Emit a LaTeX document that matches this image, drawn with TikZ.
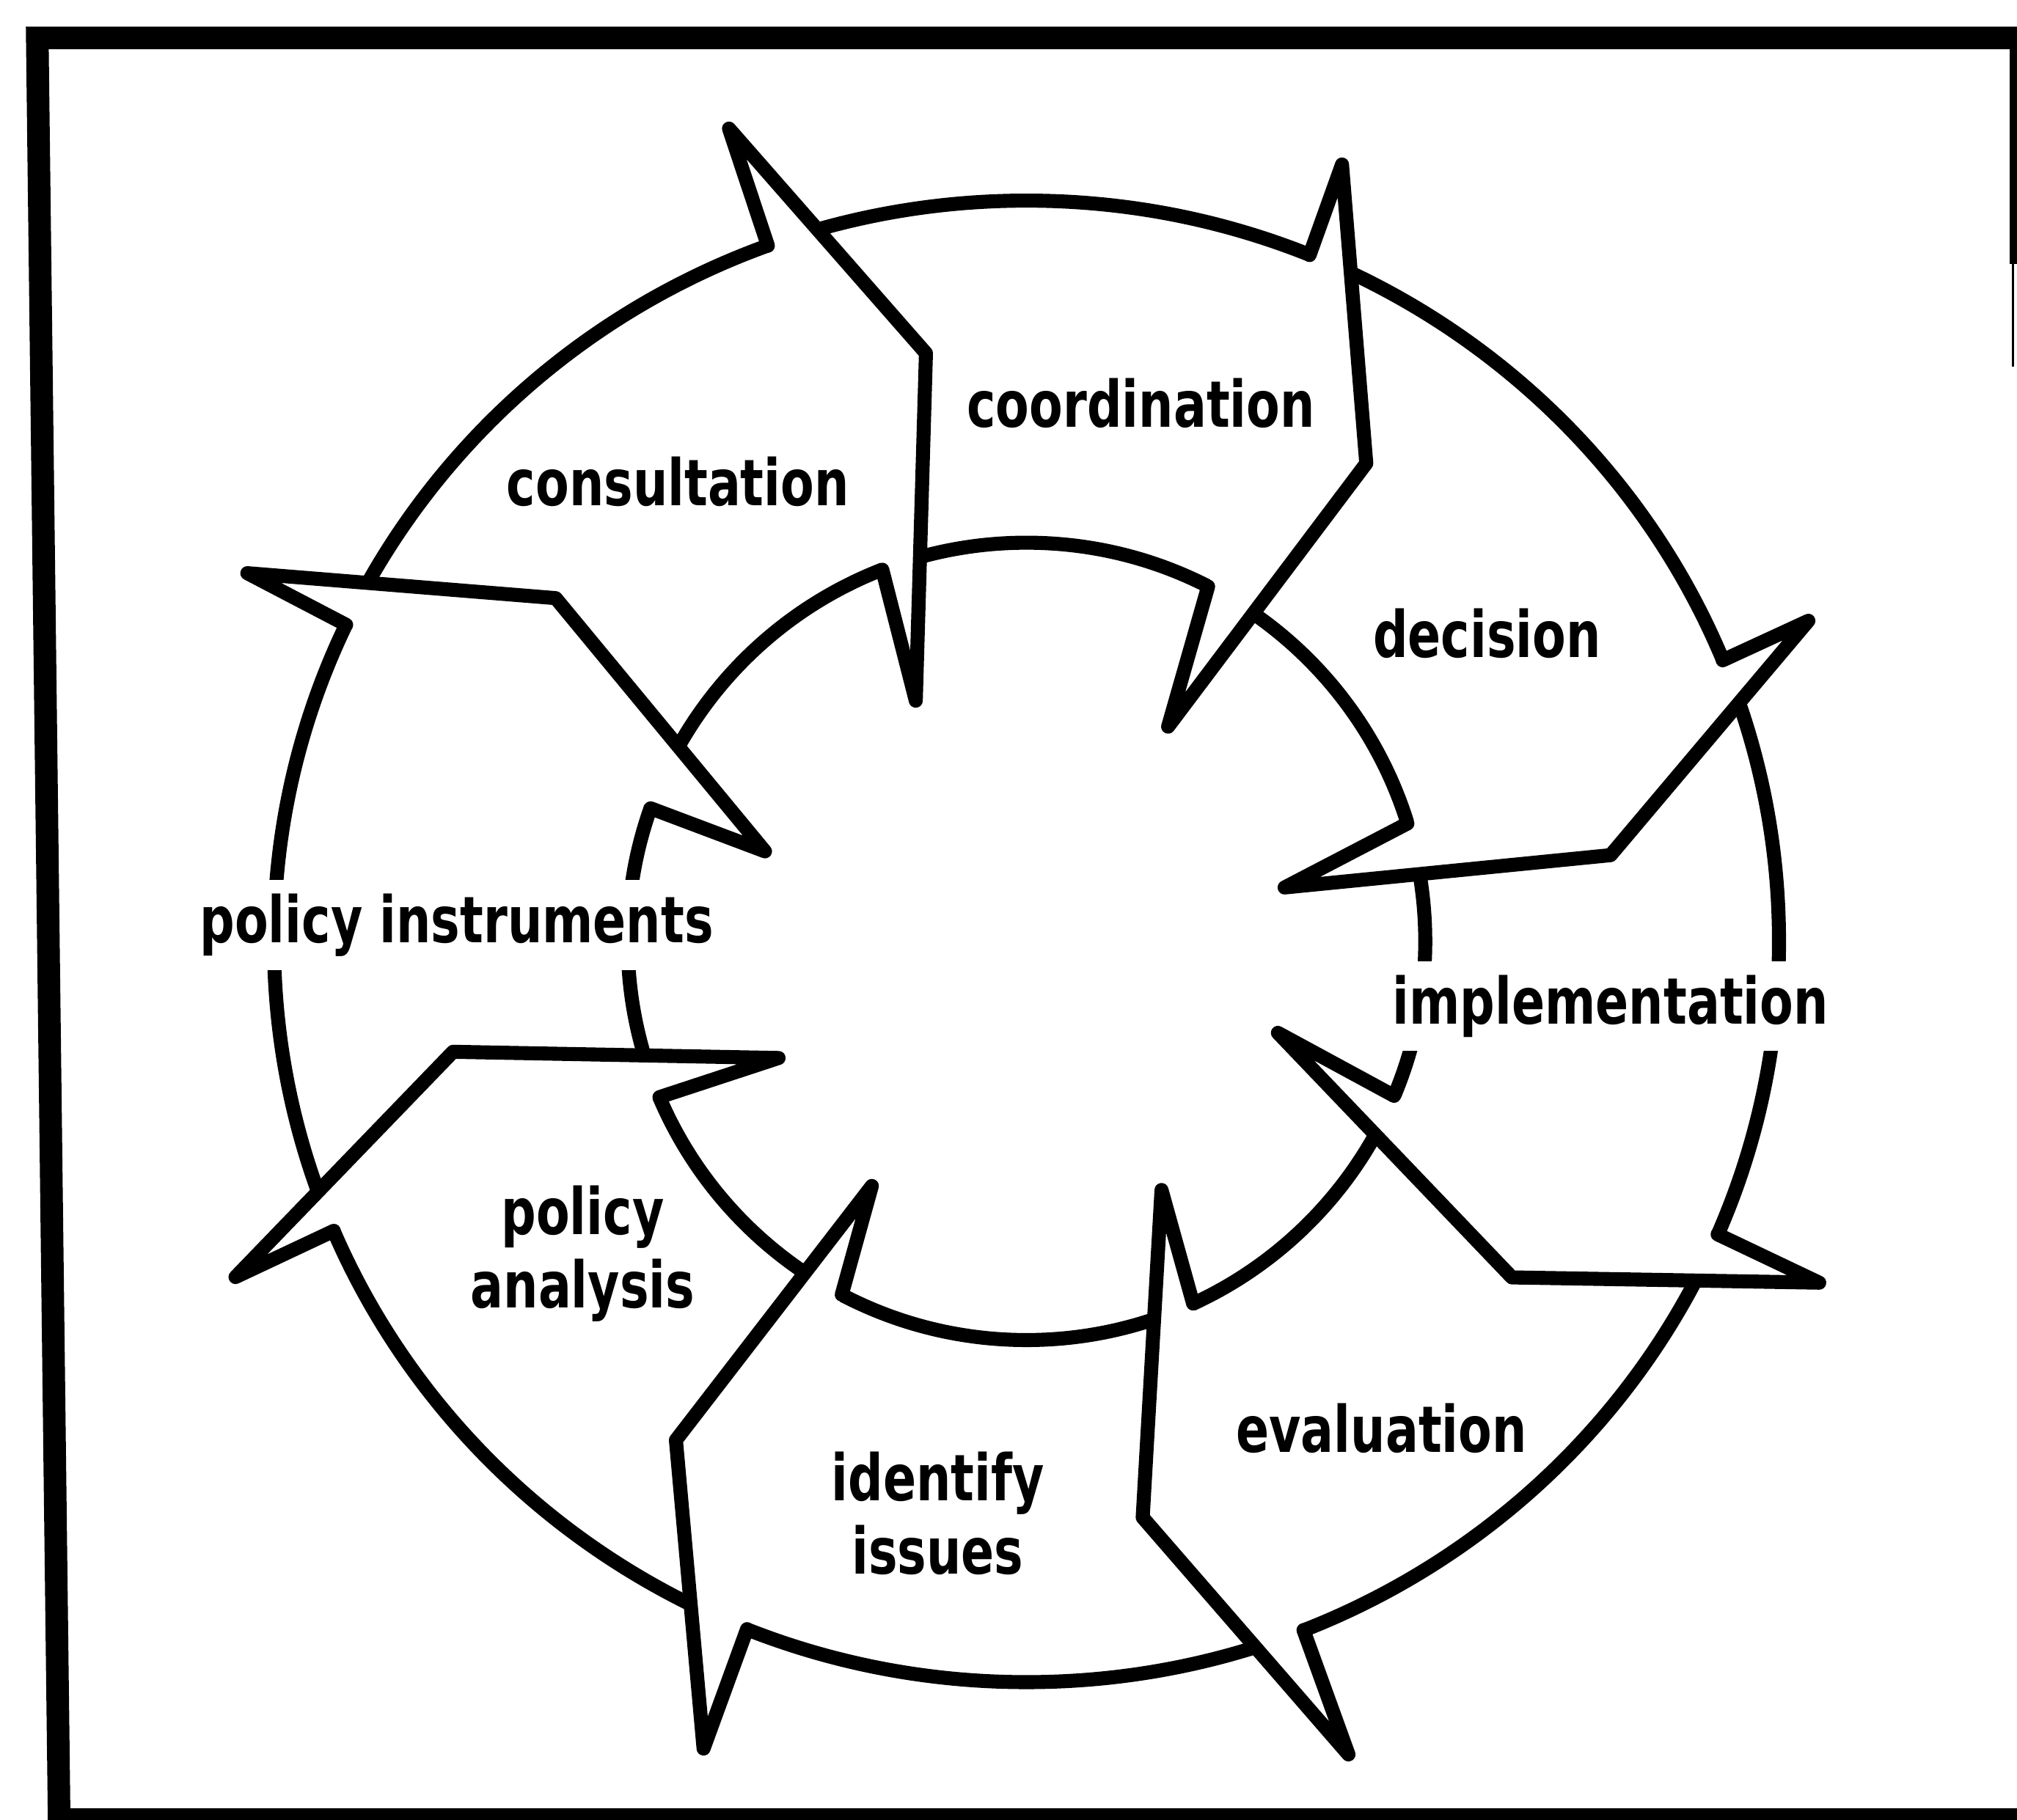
\documentclass[tikz,border=0pt]{standalone}
\usepackage{fontspec}
\newfontfamily\cyclefont{DejaVu Sans}[FakeStretch=0.76]
\begin{document}
\begin{tikzpicture}[x=0.01cm, y=0.01cm,
  rim/.style={line width=3.1pt, line join=round, line cap=round},
  frame/.style={line width=5pt},
  lbl/.style={font={\cyclefont\bfseries\fontsize{14.2}{16.2}\selectfont}, align=center, inner sep=2pt},
  gap/.style={lbl, fill=white, inner sep=3pt}]
\useasboundingbox (-798,-683) rectangle (770,732);
%% frame
\draw[frame] (775,702.5) -- (-769,702.5) -- (-752,-683) -- (775,-683);
\draw[line width=1.6pt] (767,702) -- (767,527);
\draw[line width=0.5pt] (767,527) -- (767,447);
%% ring
\draw[rim] (0,0) ellipse [x radius=585, y radius=576];
\draw[rim] (0,0) circle [radius=310];
%% heads: base/barb r/tip/tip r/inner barb/inner barb r/inner base
\foreach \b/\ro/\t/\rt/\ib/\ri/\bi in {
  110.1/673/99.7/464/114.7/206/111.2,
  67.9/652/54.6/456/56.6/200/62.9,
  22.3/657/8.4/459/11.8/205/17.2,
  -23.3/671/-34.7/459/-20.0/208/-22.8,
  -68.4/680/-78.6/457/-61.5/220/-65.3,
  -111.8/676/-125.1/474/-122.3/225/-117.6,
  -157.0/668/-169.1/454/-154.8/213/-157.0,
  154.7/670/143.9/453/161.0/215/160.5}
{
  \fill[white] (\b:585 and 576) -- (\b:\ro) -- (\t:\rt) -- (\ib:\ri) -- (\bi:310) -- cycle;
  \draw[rim] (\b:585 and 576) -- (\b:\ro) -- (\t:\rt) -- (\ib:\ri) -- (\bi:310);
}
%% labels
\node[lbl, anchor=base] (consult) at (-271,339) {consultation};
\node[lbl, anchor=base] (coord) at (89,400) {coordination};
\node[lbl, anchor=base] (decis) at (358,221) {decision};
\node[gap, anchor=base] (impl) at (454,-64) {implementation};
\node[lbl, anchor=base] (evalu) at (276,-397) {evaluation};
\node[lbl] (ident) at (-69,-445) {identify\\issues};
\node[lbl] (panal) at (-345,-243) {policy\\analysis};
\node[gap, anchor=base] (pinst) at (-443,-1) {policy instruments};
\end{tikzpicture}
\end{document}
